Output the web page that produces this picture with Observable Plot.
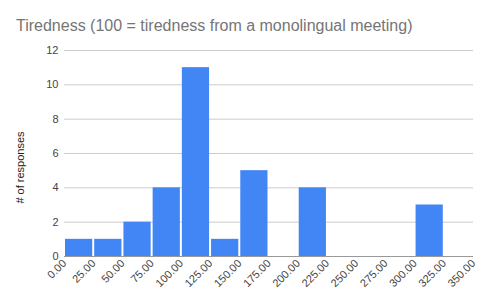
<!DOCTYPE html>
<html>
<head>
<meta charset="utf-8">
<script src="https://cdn.jsdelivr.net/npm/d3@7"></script>
<script src="https://cdn.jsdelivr.net/npm/@observablehq/plot@0.6"></script>
<style>
  body { margin: 0; background: #fff; font-family: "Liberation Sans", Arial, sans-serif; }
  #wrap { width: 488px; height: 302px; position: relative; overflow: hidden; }
  #title { position: absolute; left: 16px; top: 18px; font-size: 16px; line-height: 16px; color: #757575; white-space: nowrap; }
  #chart { position: absolute; left: 0; top: 40px; }
</style>
</head>
<body>
<div id="wrap">
  <div id="title">Tiredness (100 = tiredness from a monolingual meeting)</div>
  <div id="chart"></div>
</div>
<script>
const binStarts = [0, 25, 50, 75, 100, 125, 150, 175, 200, 225, 250, 275, 300, 325];
const counts    = [1, 1, 2, 4, 11, 1, 5, 0, 4, 0, 0, 0, 3, 0];
const binWidth = 25;
const xTicks = [0, 25, 50, 75, 100, 125, 150, 175, 200, 225, 250, 275, 300, 325, 350];
const xTickLabels = ["0.00","25.00","50.00","75.00","100.00","125.00","150.00","175.00","200.00","225.00","250.00","275.00","300.00","325.00","350.00"];
const yTicks = [0, 2, 4, 6, 8, 10, 12];
const yLabel = "# of responses";

const bins = binStarts.map((s, i) => ({x1: s, x2: s + binWidth, y: counts[i]})).filter(d => d.y > 0);

const chart = Plot.plot({
  width: 488,
  height: 262,
  marginTop: 10,
  marginBottom: 46,
  marginLeft: 64,
  marginRight: 15,
  style: { fontFamily: "Liberation Sans, Arial, sans-serif", fontSize: "11px", color: "#444", background: "#fff" },
  x: { domain: [0, 350] },
  y: { domain: [0, 12] },
  marks: [
    Plot.gridY(yTicks, { stroke: "#ccc", strokeOpacity: 1, strokeWidth: 1 }),
    Plot.rectY(bins, { x1: "x1", x2: "x2", y: "y", fill: "#4285F4", insetLeft: 1, insetRight: 1 }),
    Plot.ruleY([0], { stroke: "#999", strokeWidth: 1.2 }),
    Plot.axisY(yTicks, { tickSize: 0, tickPadding: 6, label: null, fill: "#444", fontSize: 11 }),
    Plot.axisX(xTicks, { tickSize: 0, tickPadding: 5, tickRotate: -45, label: null, fill: "#444", fontSize: 11,
      tickFormat: (d) => xTickLabels[xTicks.indexOf(d)] }),
    Plot.text([yLabel], { frameAnchor: "left", dx: -44, dy: 14, rotate: -90, fill: "#222", fontSize: 11, textAnchor: "middle" })
  ]
});
document.getElementById("chart").appendChild(chart);
</script>
</body>
</html>
